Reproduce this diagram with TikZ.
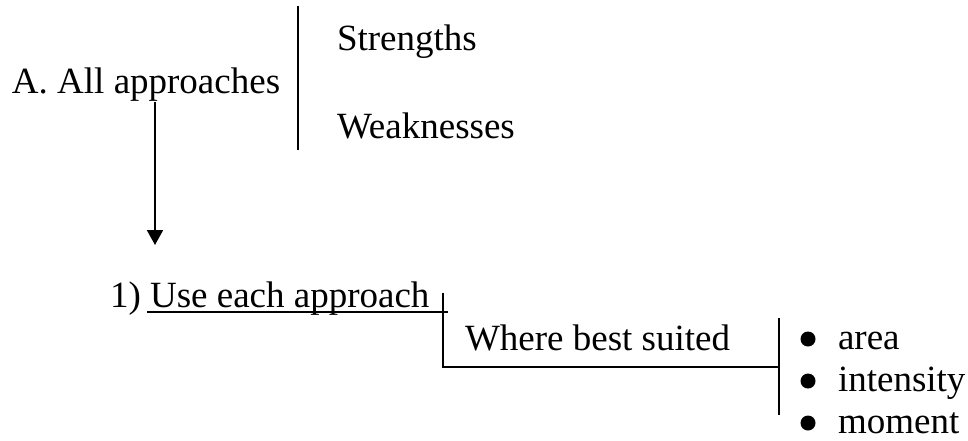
\documentclass[tikz,border=0pt]{standalone}
\usepackage{fontspec}
\setmainfont{Liberation Serif}
\usetikzlibrary{arrows.meta}
\tikzset{
  lbl/.style={anchor=base west, inner sep=0pt, outer sep=0pt, font=\fontsize{37}{44}\selectfont},
  rule/.style={line width=2pt},
  flow/.style={line width=2pt, -{Triangle[width=16pt,length=15pt]}},
  bul/.style={fill=black, draw=none}
}
\begin{document}
\begin{tikzpicture}[x=1pt,y=-1pt]
  \useasboundingbox (0,0) rectangle (968,440);

  % top level heading and its two aspects
  \node[lbl] (all) at (12,93) {A. All approaches};
  \node[lbl] (str) at (337,50) {Strengths};
  \node[lbl] (weak) at (337,138) {Weaknesses};
  \coordinate (sepTop) at (298,6);
  \coordinate (sepBot) at (298,150);
  \draw[rule] (sepTop) -- (sepBot);

  % arrow down to the first step
  \coordinate (arrTop) at (155,102);
  \coordinate (arrEnd) at (155,245);
  \draw[flow] (arrTop) -- (arrEnd);

  % step 1, underlined
  \node[lbl] (use) at (110,307) {1) Use each approach};
  \coordinate (ulStart) at (147,312);
  \coordinate (ulEnd) at (448,312);
  \draw[rule] (ulStart) -- (ulEnd);

  % bracket leading to "Where best suited"
  \coordinate (bTop) at (443,293);
  \coordinate (bCorner) at (443,367);
  \coordinate (bRight) at (779,367);
  \node[lbl] (where) at (465,350) {Where best suited};
  \draw[rule] (bTop) -- (bCorner) -- (bRight);

  % separator before the list
  \coordinate (lTop) at (779,318);
  \coordinate (lBot) at (779,415);
  \draw[rule] (lTop) -- (lBot);

  % bulleted list
  \node[lbl] (area) at (838,349) {area};
  \node[lbl] (inten) at (838,391) {intensity};
  \node[lbl] (mom) at (838,433) {moment};
  \fill[bul] (808,339) circle (7.5);
  \fill[bul] (808,381) circle (7.5);
  \fill[bul] (808,423) circle (7.5);
\end{tikzpicture}
\end{document}
